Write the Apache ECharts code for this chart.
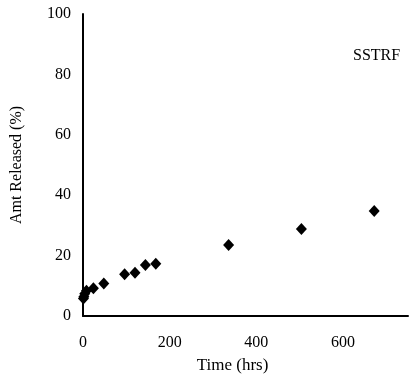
<!DOCTYPE html>
<html>
<head>
<meta charset="utf-8">
<script src="https://cdn.jsdelivr.net/npm/echarts@6/dist/echarts.min.js"></script>
<style>
html,body{margin:0;padding:0;background:#fff;}
#Chart{width:412px;height:382px;}
</style>
</head>
<body>
<div id="Chart"></div>
<script>
// 时间 (hrs)
var times=[1,2,4,8,24,48,96,120,144,168,336,504,672]
// 释放量 (%)
var released=[5.8,6.4,7.4,8.4,9.2,10.8,13.8,14.3,16.9,17.3,23.5,28.8,34.8]
var xTicks=[0,200,400,600]
var yTicks=[0,20,40,60,80,100]
var seriesName="SSTRF"

var font="Liberation Serif"

function drawChar(){
	var myChart=echarts.init(document.getElementById('Chart'));
	var pts=[]
	$each(times,function(i,t){
		pts.push([t,released[i]])
	})
	var option={
		animation:false,
		grid:{left:83,right:4,top:14,bottom:66},
		xAxis:{
			type:'value',
			min:xTicks[0],
			max:750,
			interval:xTicks[1]-xTicks[0],
			name:'Time (hrs)',
			nameLocation:'middle',
			nameGap:41,
			nameTextStyle:{fontFamily:font,fontSize:17,color:'#000',padding:[0,26,0,0]},
			axisLine:{lineStyle:{color:'#000',width:2}},
			axisTick:{show:false},
			splitLine:{show:false},
			axisLabel:{
				fontFamily:font,fontSize:16,color:'#000',margin:19,showMaxLabel:false,
				formatter:function(v){return xTicks.indexOf(v)>=0?v:''}
			}
		},
		yAxis:{
			type:'value',
			min:yTicks[0],
			max:yTicks[yTicks.length-1],
			interval:yTicks[1]-yTicks[0],
			name:'Amt Released (%)',
			nameLocation:'middle',
			nameGap:58,
			nameTextStyle:{fontFamily:font,fontSize:16,color:'#000'},
			axisLine:{show:true,lineStyle:{color:'#000',width:2}},
			axisTick:{show:false},
			splitLine:{show:false},
			axisLabel:{fontFamily:font,fontSize:16,color:'#000',margin:12}
		},
		graphic:[{
			type:'text',
			left:353,
			top:48,
			style:{text:seriesName,font:'16px "Liberation Serif"',fill:'#000'}
		}],
		series:[{
			name:seriesName,
			type:'scatter',
			symbol:'diamond',
			symbolSize:[11,12],
			itemStyle:{color:'#000',opacity:1},
			data:pts
		}]
	}
	myChart.setOption(option)
}

function $each(arr,fn){
	for(var i=0;i<arr.length;i++) fn(i,arr[i])
}

drawChar()
</script>
</body>
</html>
